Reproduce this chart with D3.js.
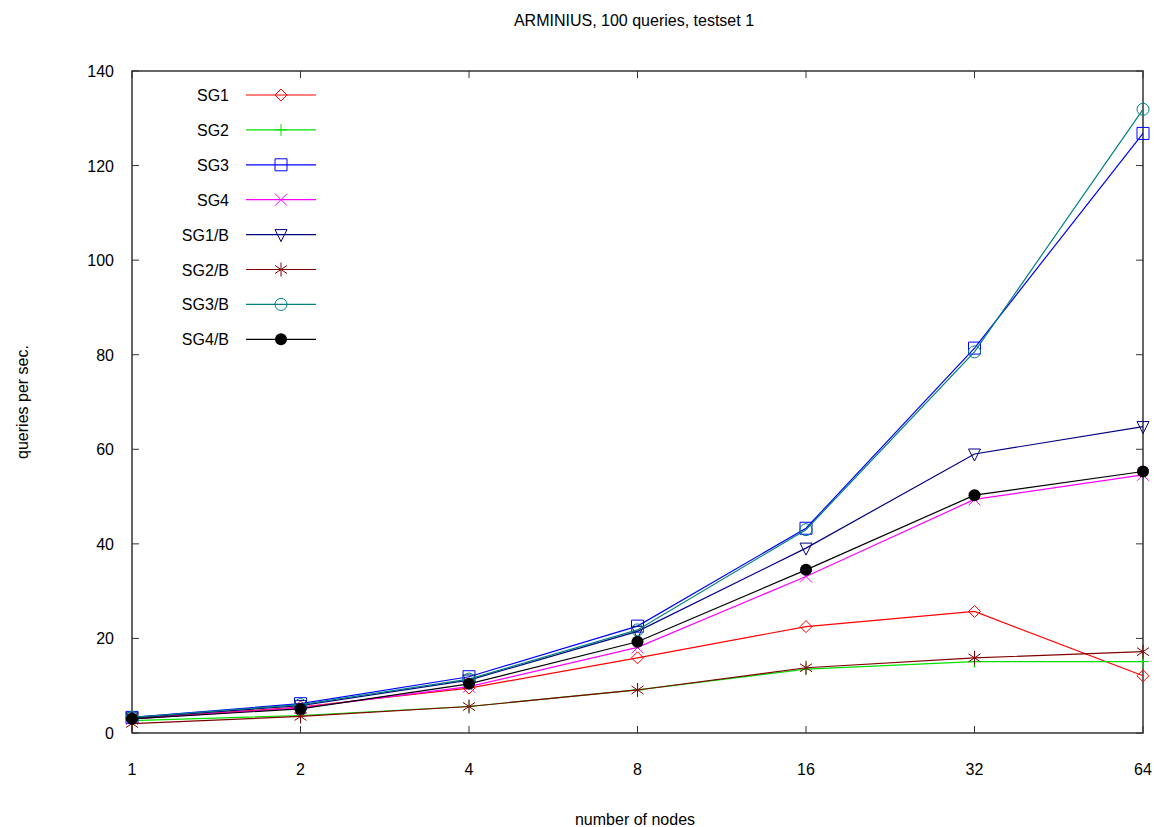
<!DOCTYPE html>
<html>
<head>
<meta charset="utf-8">
<script src="https://cdn.jsdelivr.net/npm/d3@7"></script>
<style>
  body { margin: 0; background: #fff; }
  text { font-family: "Liberation Sans", Arial, sans-serif; fill: #000; }
</style>
</head>
<body>
<div id="chart"></div>
<script>
// data
const nodes = [1, 2, 4, 8, 16, 32, 64];
const yTicks = [0, 20, 40, 60, 80, 100, 120, 140];

const sg1  = [3.0, 5.5, 9.5, 15.9, 22.5, 25.7, 12.1];
const sg2  = [2.6, 3.7, 5.6, 9.1, 13.5, 15.1, 15.1];
const sg3  = [3.3, 6.2, 11.9, 22.6, 43.3, 81.4, 126.8];
const sg4  = [3.0, 5.3, 9.8, 18.1, 33.1, 49.4, 54.6];
const sg1b = [3.2, 5.8, 11.2, 21.5, 39.1, 59.0, 64.8];
const sg2b = [2.0, 3.5, 5.6, 9.1, 13.8, 15.9, 17.2];
const sg3b = [3.3, 6.0, 11.4, 21.8, 43.0, 80.6, 131.9];
const sg4b = [3.0, 5.1, 10.4, 19.3, 34.5, 50.3, 55.3];

const seriesNames = ['SG1', 'SG2', 'SG3', 'SG4', 'SG1/B', 'SG2/B', 'SG3/B', 'SG4/B'];
const seriesValues = [sg1, sg2, sg3, sg4, sg1b, sg2b, sg3b, sg4b];
const seriesColors = ['#ff0000', '#00e000', '#0000ff', '#ff00ff', '#000080', '#800000', '#008080', '#000000'];
const seriesMarkers = ['diamond', 'plus', 'square', 'cross', 'triangleDown', 'star', 'circle', 'dot'];

const width = 1154, height = 827;
const margin = { top: 71, right: 11, bottom: 94, left: 132 };
const fontSize = 16;

const svg = d3.select('#chart').append('svg')
  .attr('width', width)
  .attr('height', height);

const x = d3.scaleLog().base(2)
  .domain([1, 64])
  .range([margin.left, width - margin.right]);

const y = d3.scaleLinear()
  .domain([0, 140])
  .range([height - margin.bottom, margin.top]);

const x0 = x.range()[0], x1 = x.range()[1];
const y0 = y.range()[0], y1 = y.range()[1];
const tickLen = 7;

// marker shapes, centred on 0,0
function markerPath(kind) {
  const s = 6;
  switch (kind) {
    case 'diamond': return `M0,${-s}L${s},0L0,${s}L${-s},0Z`;
    case 'plus': return `M${-s},0H${s}M0,${-s}V${s}`;
    case 'square': return `M${-s},${-s}H${s}V${s}H${-s}Z`;
    case 'cross': return `M${-s},${-s}L${s},${s}M${-s},${s}L${s},${-s}`;
    case 'triangleDown': return `M${-s},${-s + 1}H${s}L0,${s + 1}Z`;
    case 'star': return `M0,${-s - 1}V${s + 1}M${-s},${-s + 2}L${s},${s - 2}M${-s},${s - 2}L${s},${-s + 2}`;
    default: return '';
  }
}

function drawMarker(g, kind, color) {
  if (kind === 'circle') {
    g.append('circle').attr('r', 6).attr('fill', 'none').attr('stroke', color).attr('stroke-width', 1);
  } else if (kind === 'dot') {
    g.append('circle').attr('r', 6).attr('fill', color);
  } else {
    g.append('path').attr('d', markerPath(kind)).attr('fill', 'none')
      .attr('stroke', color).attr('stroke-width', 1);
  }
}

// frame
svg.append('rect')
  .attr('x', x0).attr('y', y1)
  .attr('width', x1 - x0).attr('height', y0 - y1)
  .attr('fill', 'none').attr('stroke', '#333').attr('stroke-width', 1.5);

// inward ticks, mirrored like gnuplot
const axisG = svg.append('g').attr('stroke', '#333').attr('stroke-width', 1);
yTicks.forEach(t => {
  axisG.append('line').attr('x1', x0).attr('x2', x0 + tickLen).attr('y1', y(t)).attr('y2', y(t));
  axisG.append('line').attr('x1', x1).attr('x2', x1 - tickLen).attr('y1', y(t)).attr('y2', y(t));
});
nodes.forEach(n => {
  axisG.append('line').attr('x1', x(n)).attr('x2', x(n)).attr('y1', y0).attr('y2', y0 - tickLen);
  axisG.append('line').attr('x1', x(n)).attr('x2', x(n)).attr('y1', y1).attr('y2', y1 + tickLen);
});

svg.append('g').selectAll('text')
  .data(yTicks).enter().append('text')
  .attr('x', x0 - 18).attr('y', d => y(d) + 6)
  .attr('text-anchor', 'end').attr('font-size', fontSize)
  .text(d => d);

svg.append('g').selectAll('text')
  .data(nodes).enter().append('text')
  .attr('x', d => x(d)).attr('y', y0 + 42)
  .attr('text-anchor', 'middle').attr('font-size', fontSize)
  .text(d => d);

// titles
svg.append('text')
  .attr('x', 634).attr('y', 26)
  .attr('text-anchor', 'middle').attr('font-size', fontSize)
  .text('ARMINIUS, 100 queries, testset 1');

svg.append('text')
  .attr('x', 635).attr('y', 825)
  .attr('text-anchor', 'middle').attr('font-size', fontSize)
  .text('number of nodes');

svg.append('text')
  .attr('transform', `translate(28,${(y0 + y1) / 2}) rotate(-90)`)
  .attr('text-anchor', 'middle').attr('font-size', fontSize)
  .text('queries per sec.');

// series
const line = d3.line()
  .x((d, i) => x(nodes[i]))
  .y(d => y(d));

seriesValues.forEach((vals, k) => {
  const color = seriesColors[k];
  svg.append('path')
    .datum(vals)
    .attr('d', line)
    .attr('fill', 'none')
    .attr('stroke', color)
    .attr('stroke-width', 1.2);

  svg.append('g').selectAll('g')
    .data(vals).enter().append('g')
    .attr('transform', (d, i) => `translate(${x(nodes[i])},${y(d)})`)
    .each(function () { drawMarker(d3.select(this), seriesMarkers[k], color); });
});

// legend
const legend = svg.append('g');
seriesNames.forEach((name, k) => {
  const ly = 95 + k * 34.9;
  const color = seriesColors[k];
  legend.append('text')
    .attr('x', 229).attr('y', ly + 6)
    .attr('text-anchor', 'end').attr('font-size', fontSize)
    .text(name);
  legend.append('line')
    .attr('x1', 246).attr('x2', 316).attr('y1', ly).attr('y2', ly)
    .attr('stroke', color).attr('stroke-width', 1.2);
  const mg = legend.append('g').attr('transform', `translate(281,${ly})`);
  drawMarker(mg, seriesMarkers[k], color);
});
</script>
</body>
</html>
